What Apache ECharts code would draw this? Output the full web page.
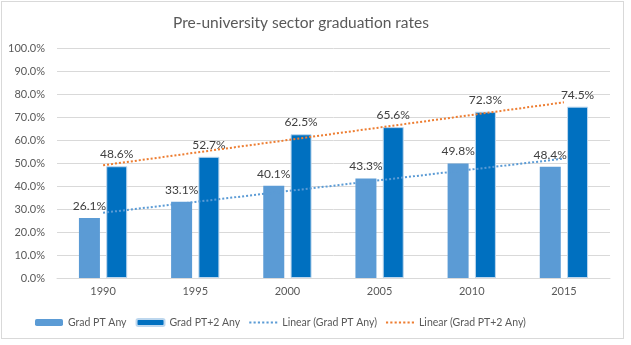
<!DOCTYPE html>
<html>
<head>
<meta charset="utf-8">
<script src="https://cdn.jsdelivr.net/npm/echarts@6/dist/echarts.min.js"></script>
<style>
  html, body { margin: 0; padding: 0; background: #fff; }
  #frame { position: absolute; left: 1px; top: 1px; width: 621px; height: 336px; border: 1px solid #d9d9d9; }
  #chart { position: absolute; left: 0; top: 0; width: 631px; height: 345px; }
</style>
</head>
<body>
<div id="frame"></div>
<div id="chart"></div>
<script>
// Graduation rates by year (percent)
const years = ['1990', '1995', '2000', '2005', '2010', '2015'];
const gradPT = [26.1, 33.1, 40.1, 43.3, 49.8, 48.4];
const gradPT2 = [48.6, 52.7, 62.5, 65.6, 72.3, 74.5];
const yTicks = { min: 0, max: 100, step: 10 };
const seriesNames = ['Grad PT Any', 'Grad PT+2 Any', 'Linear (Grad PT Any)', 'Linear (Grad PT+2 Any)'];

// Least-squares linear trend evaluated at each category
function linearTrend(values) {
  const n = values.length;
  const xs = values.map((_, i) => i + 1);
  const mx = xs.reduce((a, b) => a + b, 0) / n;
  const my = values.reduce((a, b) => a + b, 0) / n;
  let sxy = 0, sxx = 0;
  xs.forEach((x, i) => { sxy += (x - mx) * (values[i] - my); sxx += (x - mx) * (x - mx); });
  const slope = sxy / sxx;
  return xs.map(x => +(my + slope * (x - mx)).toFixed(3));
}

const FONT = "Lato, 'Liberation Sans', Arial, sans-serif";
const chart = echarts.init(document.getElementById('chart'), null, { renderer: 'canvas' });

const valueLabel = {
  show: true,
  position: 'top',
  distance: 6,
  color: '#404040',
  fontFamily: FONT,
  fontSize: 12,
  formatter: p => p.value.toFixed(1) + '%'
};

// Dotted-line legend icon: a row of small squares
const dotIcon = 'path://' + Array.from({ length: 7 }, (_, i) => `M${i * 4},0h2v2h-2z`).join('');

chart.setOption({
  animation: false,
  textStyle: { fontFamily: FONT },
  title: {
    text: 'Pre-university sector graduation rates',
    left: 168,
    top: 10,
    textStyle: { fontFamily: FONT, fontSize: 15.5, fontWeight: 'normal', color: '#595959' }
  },
  grid: { left: 57, right: 21, top: 48, bottom: 67 },
  legend: {
    left: 30,
    top: 312,
    itemWidth: 28,
    itemHeight: 7,
    itemGap: 9,
    textStyle: { fontFamily: FONT, fontSize: 10.5, color: '#595959' },
    data: [
      { name: seriesNames[0] },
      { name: seriesNames[1] },
      { name: seriesNames[2], icon: dotIcon },
      { name: seriesNames[3], icon: dotIcon }
    ]
  },
  xAxis: {
    type: 'category',
    data: years,
    axisLine: { lineStyle: { color: '#d9d9d9' } },
    axisTick: { show: false },
    axisLabel: { color: '#595959', fontSize: 11, fontFamily: FONT, margin: 8 }
  },
  yAxis: {
    type: 'value',
    min: yTicks.min,
    max: yTicks.max,
    interval: yTicks.step,
    axisLine: { show: false },
    axisTick: { show: false },
    splitLine: { lineStyle: { color: '#d9d9d9' } },
    axisLabel: { color: '#595959', fontSize: 11, fontFamily: FONT, margin: 12, formatter: v => v.toFixed(1) + '%' }
  },
  series: [
    {
      name: seriesNames[0],
      type: 'bar',
      data: gradPT,
      barWidth: 21,
      barGap: '30%',
      itemStyle: { color: '#5b9bd5' },
      label: valueLabel,
      z: 2
    },
    {
      name: seriesNames[1],
      type: 'bar',
      data: gradPT2,
      barWidth: 21,
      itemStyle: { color: '#0070c0', borderColor: '#bdd7ee', borderWidth: 1 },
      label: valueLabel,
      z: 2
    },
    {
      name: seriesNames[2],
      type: 'line',
      data: linearTrend(gradPT),
      symbol: 'none',
      lineStyle: { color: '#5b9bd5', width: 2, type: [2, 2] },
      itemStyle: { color: '#5b9bd5' },
      z: 3
    },
    {
      name: seriesNames[3],
      type: 'line',
      data: linearTrend(gradPT2),
      symbol: 'none',
      lineStyle: { color: '#ed7d31', width: 2, type: [2, 2] },
      itemStyle: { color: '#ed7d31' },
      z: 3
    }
  ]
});
</script>
</body>
</html>
